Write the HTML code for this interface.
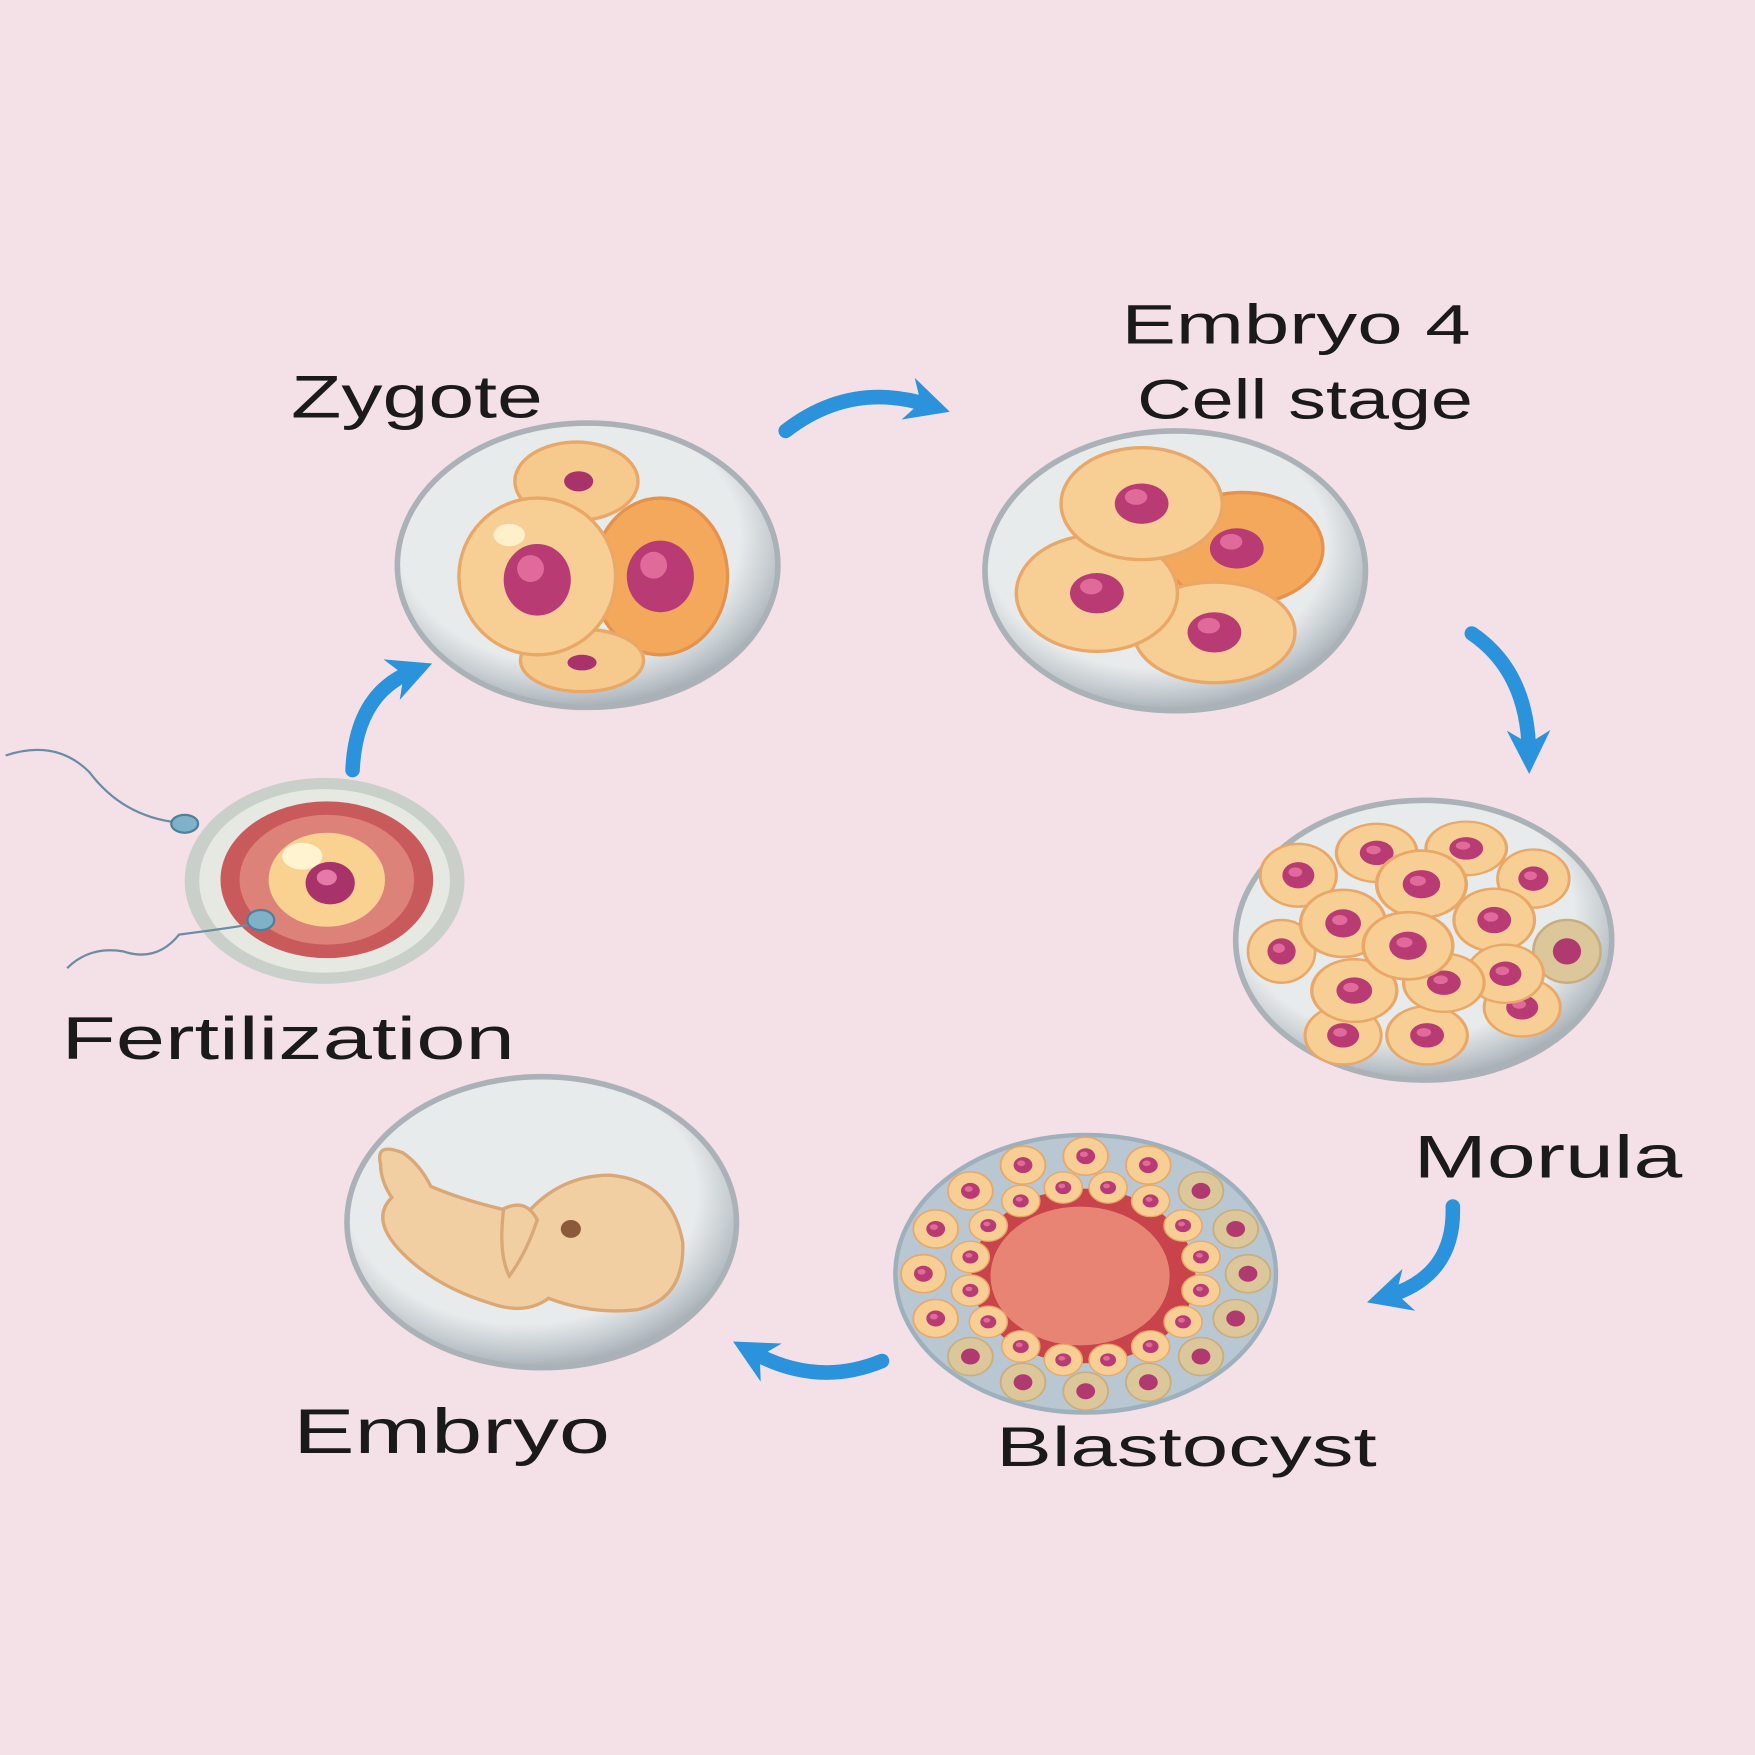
<!DOCTYPE html>
<html><head><meta charset="utf-8"><style>
html,body{margin:0;padding:0;background:#f4e1e8;}
svg{display:block}
text{font-family:"Liberation Sans",sans-serif;fill:#1a1a1a;}
</style></head><body>
<svg width="1755" height="1755" viewBox="0 0 1568 1568" xmlns="http://www.w3.org/2000/svg">
<defs>
<radialGradient id="shell" cx="45%" cy="40%" r="60%">
<stop offset="0.75" stop-color="#e8ebec"/><stop offset="0.92" stop-color="#bfc6cb"/><stop offset="1" stop-color="#a9b1b8"/>
</radialGradient>
<g id="c"><ellipse rx="1" ry="1" fill="#f7cf94" stroke="#e9a768" stroke-width="0.08"/><ellipse rx="0.42" ry="0.42" fill="#b83b73"/><ellipse cx="-0.08" cy="-0.1" rx="0.18" ry="0.15" fill="#e06b9a"/></g>
<g id="d"><ellipse rx="1" ry="1" fill="#dcc79a" stroke="#c9ad7c" stroke-width="0.08"/><ellipse rx="0.42" ry="0.42" fill="#b0396f"/></g>
<marker id="ah" viewBox="0 0 10 10" refX="5" refY="5" markerWidth="3" markerHeight="3" orient="auto"><path d="M0,0 L10,5 L0,10 L3,5 Z" fill="#2a93dc"/></marker>
</defs>
<rect width="1568" height="1568" fill="#f4e1e8"/>

<text x="260" y="373" font-size="54" textLength="225" lengthAdjust="spacingAndGlyphs">Zygote</text>
<text x="1002" y="307" font-size="50" textLength="312" lengthAdjust="spacingAndGlyphs">Embryo  4</text>
<text x="1016" y="374" font-size="50" textLength="300" lengthAdjust="spacingAndGlyphs">Cell stage</text>
<text x="55" y="946" font-size="54" textLength="405" lengthAdjust="spacingAndGlyphs">Fertilization</text>
<text x="1263" y="1052" font-size="54" textLength="240" lengthAdjust="spacingAndGlyphs">Morula</text>
<text x="890" y="1310" font-size="50" textLength="340" lengthAdjust="spacingAndGlyphs">Blastocyst</text>
<text x="262" y="1298" font-size="56" textLength="283" lengthAdjust="spacingAndGlyphs">Embryo</text>

<g fill="none" stroke="#2a93dc" stroke-width="13" stroke-linecap="round">
<path d="M702,385 Q760,340 830,362" marker-end="url(#ah)"/>
<path d="M1315,566 Q1365,600 1366,672" marker-end="url(#ah)"/>
<path d="M1298,1078 Q1300,1140 1240,1158" marker-end="url(#ah)"/>
<path d="M788,1216 Q730,1240 672,1208" marker-end="url(#ah)"/>
<path d="M315,688 Q318,620 368,600" marker-end="url(#ah)"/>
</g>

<ellipse cx="290" cy="787" rx="125" ry="92" fill="#c9cfc9"/>
<ellipse cx="290" cy="787" rx="112" ry="82" fill="#e6e9e2"/>
<ellipse cx="292" cy="786" rx="95" ry="70" fill="#c95a5c"/>
<ellipse cx="292" cy="786" rx="78" ry="58" fill="#dc8278"/>
<ellipse cx="292" cy="786" rx="52" ry="42" fill="#f9d191"/>
<ellipse cx="270" cy="765" rx="18" ry="12" fill="#fff3d0"/>
<ellipse cx="295" cy="789" rx="22" ry="19" fill="#a8326a"/>
<ellipse cx="292" cy="784" rx="9" ry="7" fill="#e67aa6"/>
<g fill="none" stroke="#6c8ca3" stroke-width="2">
<path d="M5,675 Q50,660 80,690 Q110,730 160,735"/>
<path d="M60,865 Q80,845 110,850 Q140,860 160,835 Q200,830 230,825"/>
</g>
<ellipse cx="165" cy="736" rx="12" ry="8" fill="#7fb1c9" stroke="#4f7f9a" stroke-width="2"/>
<ellipse cx="233" cy="822" rx="12" ry="9" fill="#7fb1c9" stroke="#4f7f9a" stroke-width="2"/>

<ellipse cx="525" cy="505" rx="170" ry="127" fill="url(#shell)" stroke="#aab2b8" stroke-width="5"/>
<ellipse cx="515" cy="430" rx="55" ry="35" fill="#f6c98d" stroke="#e9a768" stroke-width="3"/>
<ellipse cx="517" cy="430" rx="13" ry="9" fill="#a8326a"/>
<ellipse cx="590" cy="515" rx="60" ry="70" fill="#f4a85c" stroke="#e7924a" stroke-width="3"/>
<ellipse cx="590" cy="515" rx="30" ry="32" fill="#b83b73"/>
<ellipse cx="584" cy="505" rx="12" ry="12" fill="#e06b9a"/>
<ellipse cx="520" cy="590" rx="55" ry="28" fill="#f6c98d" stroke="#e9a768" stroke-width="3"/>
<ellipse cx="520" cy="592" rx="13" ry="7" fill="#a8326a"/>
<ellipse cx="480" cy="515" rx="70" ry="70" fill="#f7cf94" stroke="#e9a768" stroke-width="3"/>
<ellipse cx="455" cy="478" rx="14" ry="10" fill="#fff0cc"/>
<ellipse cx="480" cy="518" rx="30" ry="32" fill="#b83b73"/>
<ellipse cx="474" cy="508" rx="12" ry="12" fill="#e06b9a"/>

<ellipse cx="1050" cy="510" rx="170" ry="125" fill="url(#shell)" stroke="#aab2b8" stroke-width="5"/>
<ellipse cx="1110" cy="490" rx="72" ry="50" fill="#f4a85c" stroke="#e7924a" stroke-width="3"/>
<ellipse cx="1105" cy="490" rx="24" ry="18" fill="#b83b73"/><ellipse cx="1100" cy="484" rx="10" ry="7" fill="#e06b9a"/>
<ellipse cx="1085" cy="565" rx="72" ry="45" fill="#f7cf94" stroke="#e9a768" stroke-width="3"/>
<ellipse cx="1085" cy="565" rx="24" ry="18" fill="#b83b73"/><ellipse cx="1080" cy="559" rx="10" ry="7" fill="#e06b9a"/>
<ellipse cx="980" cy="530" rx="72" ry="52" fill="#f7cf94" stroke="#e9a768" stroke-width="3"/>
<ellipse cx="980" cy="530" rx="24" ry="18" fill="#b83b73"/><ellipse cx="975" cy="524" rx="10" ry="7" fill="#e06b9a"/>
<ellipse cx="1020" cy="450" rx="72" ry="50" fill="#f7cf94" stroke="#e9a768" stroke-width="3"/>
<ellipse cx="1020" cy="450" rx="24" ry="18" fill="#b83b73"/><ellipse cx="1015" cy="444" rx="10" ry="7" fill="#e06b9a"/>

<ellipse cx="1272" cy="840" rx="168" ry="125" fill="url(#shell)" stroke="#aab2b8" stroke-width="5"/>
<g>
<use href="#c" transform="translate(1200,925) scale(34,26)"/>
<use href="#c" transform="translate(1275,925) scale(36,26)"/>
<use href="#c" transform="translate(1360,900) scale(34,26)"/>
<use href="#d" transform="translate(1400,850) scale(30,28)"/>
<use href="#c" transform="translate(1160,782) scale(34,28)"/>
<use href="#c" transform="translate(1230,762) scale(36,26)"/>
<use href="#c" transform="translate(1310,758) scale(36,24)"/>
<use href="#c" transform="translate(1370,785) scale(32,26)"/>
<use href="#c" transform="translate(1145,850) scale(30,28)"/>
<use href="#c" transform="translate(1335,822) scale(36,28)"/>
<use href="#c" transform="translate(1345,870) scale(34,26)"/>
<use href="#c" transform="translate(1210,885) scale(38,28)"/>
<use href="#c" transform="translate(1290,878) scale(36,26)"/>
<use href="#c" transform="translate(1200,825) scale(38,30)"/>
<use href="#c" transform="translate(1270,790) scale(40,30)"/>
<use href="#c" transform="translate(1258,845) scale(40,30)"/>
</g>

<ellipse cx="970" cy="1138" rx="170" ry="124" fill="#b8c7d2" stroke="#9fb0bd" stroke-width="4"/>
<ellipse cx="968" cy="1140" rx="100" ry="78" fill="#c9444a"/>
<ellipse cx="965" cy="1140" rx="80" ry="62" fill="#e88474"/>
<g>
<use href="#d" transform="translate(1115,1138) scale(20,17)"/>
<use href="#d" transform="translate(1104,1178) scale(20,17)"/>
<use href="#d" transform="translate(1073,1212) scale(20,17)"/>
<use href="#d" transform="translate(1026,1235) scale(20,17)"/>
<use href="#d" transform="translate(970,1243) scale(20,17)"/>
<use href="#d" transform="translate(914,1235) scale(20,17)"/>
<use href="#d" transform="translate(867,1212) scale(20,17)"/>
<use href="#c" transform="translate(836,1178) scale(20,17)"/>
<use href="#c" transform="translate(825,1138) scale(20,17)"/>
<use href="#c" transform="translate(836,1098) scale(20,17)"/>
<use href="#c" transform="translate(867,1064) scale(20,17)"/>
<use href="#c" transform="translate(914,1041) scale(20,17)"/>
<use href="#c" transform="translate(970,1033) scale(20,17)"/>
<use href="#c" transform="translate(1026,1041) scale(20,17)"/>
<use href="#d" transform="translate(1073,1064) scale(20,17)"/>
<use href="#d" transform="translate(1104,1098) scale(20,17)"/>
<use href="#c" transform="translate(1073,1153) scale(17,14)"/>
<use href="#c" transform="translate(1057,1181) scale(17,14)"/>
<use href="#c" transform="translate(1028,1203) scale(17,14)"/>
<use href="#c" transform="translate(990,1215) scale(17,14)"/>
<use href="#c" transform="translate(950,1215) scale(17,14)"/>
<use href="#c" transform="translate(912,1203) scale(17,14)"/>
<use href="#c" transform="translate(883,1181) scale(17,14)"/>
<use href="#c" transform="translate(867,1153) scale(17,14)"/>
<use href="#c" transform="translate(867,1123) scale(17,14)"/>
<use href="#c" transform="translate(883,1095) scale(17,14)"/>
<use href="#c" transform="translate(912,1073) scale(17,14)"/>
<use href="#c" transform="translate(950,1061) scale(17,14)"/>
<use href="#c" transform="translate(990,1061) scale(17,14)"/>
<use href="#c" transform="translate(1028,1073) scale(17,14)"/>
<use href="#c" transform="translate(1057,1095) scale(17,14)"/>
<use href="#c" transform="translate(1073,1123) scale(17,14)"/>
</g>

<ellipse cx="484" cy="1092" rx="174" ry="130" fill="url(#shell)" stroke="#aab2b8" stroke-width="5"/>
<g fill="#f1cfa3" stroke="#d9a876" stroke-width="3">
<path d="M340,1040 Q335,1020 360,1030 Q375,1040 385,1060 Q420,1075 470,1085 Q500,1050 545,1050 Q600,1055 610,1110 Q612,1160 570,1170 Q530,1175 490,1160 Q470,1175 440,1165 Q390,1150 360,1120 Q330,1090 350,1070 Q340,1055 340,1040 Z"/>
<path d="M450,1080 Q470,1070 480,1090 Q470,1120 455,1140 Q445,1120 450,1080 Z"/>
</g>
<ellipse cx="510" cy="1098" rx="9" ry="8" fill="#8a5a3a"/>
</svg>
</body></html>
